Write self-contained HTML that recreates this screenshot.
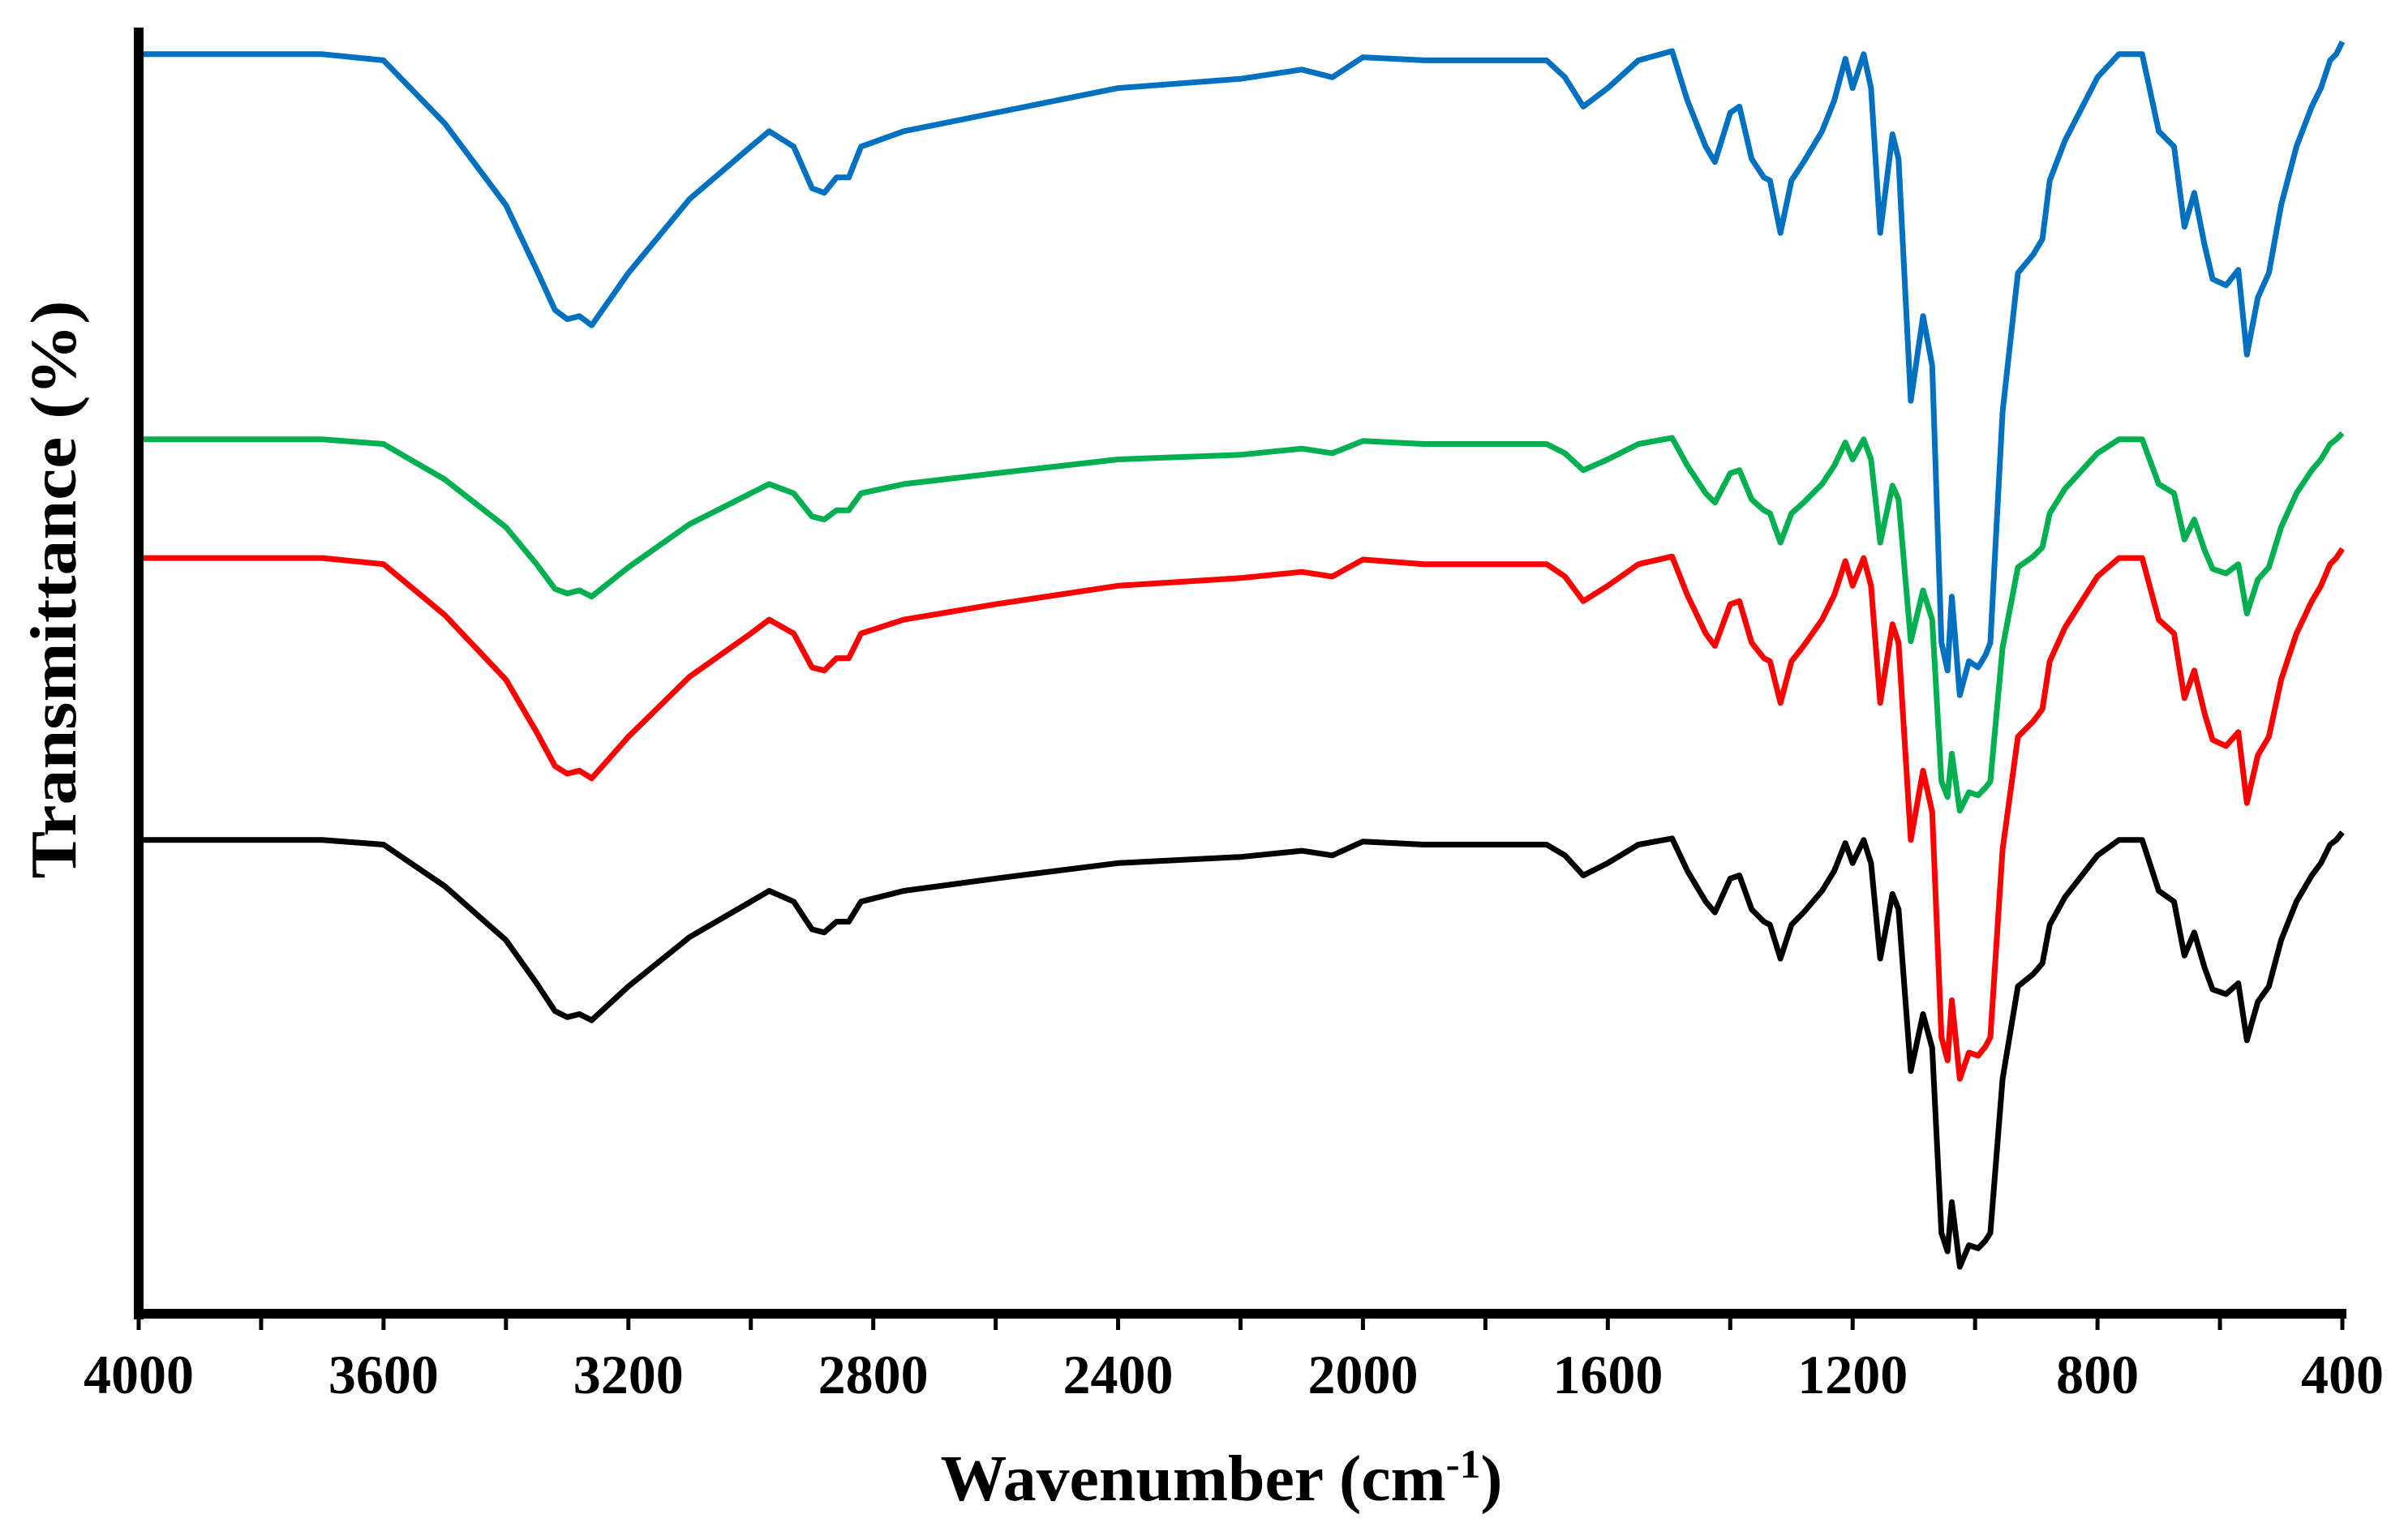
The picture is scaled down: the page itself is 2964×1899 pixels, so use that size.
<!DOCTYPE html>
<html><head><meta charset="utf-8"><style>html,body{margin:0;padding:0;background:#fff}svg{display:block}</style></head>
<body>
<svg id="chart" width="2964" height="1899" viewBox="0 0 2964 1899" xmlns="http://www.w3.org/2000/svg">
<rect x="0" y="0" width="2964" height="1899" fill="#fff"/>
<g id="series"></g>
<g id="axes"></g>
<text x="67" y="727" transform="rotate(-90 67 727)" text-anchor="middle" dominant-baseline="central" font-family="Liberation Serif, serif" font-weight="bold" font-size="80" textLength="713" lengthAdjust="spacingAndGlyphs">Transmittance (%)</text>
<text x="1506" y="1850" text-anchor="middle" font-family="Liberation Serif, serif" font-weight="bold" font-size="80" textLength="693" lengthAdjust="spacingAndGlyphs">Wavenumber (cm<tspan baseline-shift="super" font-size="50">-1</tspan>)</text>
</svg>
<script>
const wavenumbers = [4000,3800,3700,3600,3500,3400,3350,3320,3300,3280,3260,3200,3100,3000,2970,2930,2900,2880,2860,2840,2820,2750,2600,2400,2200,2100,2050,2000,1900,1700,1670,1640,1600,1550,1495,1470,1440,1425,1400,1385,1365,1345,1335,1318,1300,1280,1250,1230,1212,1200,1182,1170,1155,1135,1125,1105,1085,1070,1055,1045,1038,1025,1010,995,983,975,955,930,905,890,878,853,800,765,727,700,675,658,642,625,612,590,570,556,538,520,500,475,450,435,420,410,400];
const blueValues = [818,818,818,814,773,720,678,652,646,648,642,676,724,758,768,758,731,728,738,738,758,768,780,796,802,808,803,816,814,814,803,784,796,814,820,788,758,748,780,784,750,738,736,702,736,748,768,788,815,796,818,796,702,766,750,593,648,616,436,418,466,402,424,420,428,436,586,676,688,698,736,762,803,818,818,768,758,706,728,694,672,668,678,623,660,676,720,758,784,796,814,818,826];
const greenValues = [568,568,568,565,542,511,487,471,468,470,466,485,513,533,539,533,518,516,522,522,533,539,546,555,558,562,559,567,565,565,559,548,555,565,569,551,533,527,546,548,529,522,520,501,520,527,539,551,566,555,568,555,501,538,529,437,470,451,346,336,364,327,339,337,342,346,433,485,492,498,520,536,559,568,568,539,533,503,516,496,484,481,487,455,477,485,511,533,548,555,565,568,572];
const redValues = [491,491,491,487,454,412,378,356,351,353,348,375,414,442,451,442,420,418,426,426,442,451,461,473,478,482,479,490,487,487,479,463,473,487,492,467,442,434,461,463,436,426,424,397,424,434,451,467,489,473,491,473,397,448,436,308,353,326,180,165,204,153,170,168,174,180,302,375,385,393,424,446,479,491,491,451,442,400,418,390,373,369,378,332,363,375,412,442,463,473,487,491,497];
const blackValues = [308,308,308,305,278,243,215,197,193,195,191,213,245,268,275,268,250,248,255,255,268,275,283,293,297,301,298,307,305,305,298,285,293,305,309,288,268,261,283,285,263,255,253,231,253,261,275,288,306,293,308,293,231,273,263,158,195,173,53,41,73,31,45,43,48,53,153,213,221,228,253,271,298,308,308,275,268,233,248,225,211,208,215,178,203,213,243,268,285,293,305,308,313];
const tickLabels = ["4000","3600","3200","2800","2400","2000","1600","1200","800","400"];
const majorTicks = [4000,3600,3200,2800,2400,2000,1600,1200,800,400];

const NS = "http://www.w3.org/2000/svg";
const X0 = 171, X1 = 2888, YB = 1621, PX_PER_T = 1.9;
function xScale(wn){ return X0 + (4000 - wn) / 3600 * (X1 - X0); }
function yScale(t){ return YB - t * PX_PER_T; }

const seriesG = document.getElementById('series');
function drawSeries(vals, color, name){
  let d = '';
  for (let i = 0; i < wavenumbers.length; i++) {
    d += (i ? 'L' : 'M') + xScale(wavenumbers[i]).toFixed(1) + ' ' + yScale(vals[i]).toFixed(1);
  }
  const p = document.createElementNS(NS, 'path');
  p.setAttribute('d', d);
  p.setAttribute('fill', 'none');
  p.setAttribute('stroke', color);
  p.setAttribute('stroke-width', '7');
  p.setAttribute('stroke-linejoin', 'round');
  
  
  seriesG.appendChild(p);
}
drawSeries(blackValues, '#000000', 'black-spectrum');
drawSeries(redValues, '#ff0000', 'red-spectrum');
drawSeries(greenValues, '#00b050', 'green-spectrum');
drawSeries(blueValues, '#0070c0', 'blue-spectrum');

const axesG = document.getElementById('axes');
const yAxis = document.createElementNS(NS, 'rect');
yAxis.setAttribute('x', 165); yAxis.setAttribute('y', 34);
yAxis.setAttribute('width', 12); yAxis.setAttribute('height', 1593);


axesG.appendChild(yAxis);
const xAxis = document.createElementNS(NS, 'rect');
xAxis.setAttribute('x', 165); xAxis.setAttribute('y', 1614);
xAxis.setAttribute('width', 2728); xAxis.setAttribute('height', 12);


axesG.appendChild(xAxis);
for (let wn = 4000; wn >= 400; wn -= 200) {
  const t = document.createElementNS(NS, 'rect');
  t.setAttribute('x', xScale(wn) - 2.5); t.setAttribute('y', 1624);
  t.setAttribute('width', 5); t.setAttribute('height', 16);
  
  
  axesG.appendChild(t);
}
for (let i = 0; i < majorTicks.length; i++) {
  const tx = document.createElementNS(NS, 'text');
  tx.setAttribute('x', xScale(majorTicks[i]));
  tx.setAttribute('y', 1718);
  tx.setAttribute('text-anchor', 'middle');
  tx.setAttribute('font-family', 'Liberation Serif, serif');
  tx.setAttribute('font-weight', 'bold');
  tx.setAttribute('font-size', '68');
  tx.textContent = tickLabels[i];
  
  
  axesG.appendChild(tx);
}
</script>
</body></html>
